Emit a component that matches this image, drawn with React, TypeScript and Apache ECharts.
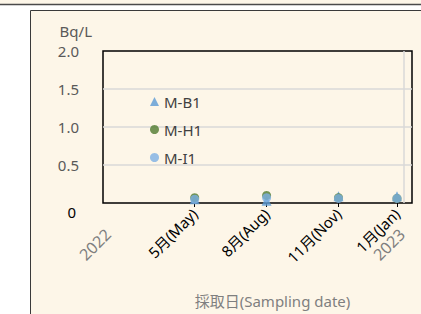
import React, { useEffect, useRef } from "react";
import * as echarts from "echarts";

const seriesNames = ["M-B1", "M-H1", "M-I1"];
const sampleDates = ["2022-05-17", "2022-08-16", "2022-11-15", "2023-01-28"];
const valuesB1 = [0.05, 0.03, 0.09, 0.09];
const valuesH1 = [0.07, 0.1, 0.07, 0.06];
const valuesI1 = [0.05, 0.07, 0.06, 0.06];
const tickLabels = ["5月(May)", "8月(Aug)", "11月(Nov)", "1月(Jan)"];
const yearLabels = ["2022", "2023"];
const axisStartDate = "2022-01-21";
const axisEndDate = "2023-02-16";
const gridLineDate = "2023-02-06";
const yTicks = [0, 0.5, 1.0, 1.5, 2.0];

const DAY = 86400000;
const base = Date.parse(axisStartDate);
const toDay = (d: string) => Math.round((Date.parse(d) - base) / DAY);

const colors = ["#5B9BD5", "#4F7A2E", "#7DB0E4"];
const symbols = ["triangle", "circle", "circle"];
const FONT = "'Noto Sans', 'Noto Sans CJK JP', sans-serif";
const CREAM = "#FDF6E8";

export default function App() {
  const ref = useRef<HTMLDivElement>(null);
  useEffect(() => {
    if (!ref.current) return;
    const chart = echarts.init(ref.current, undefined, { renderer: "svg" });
    const xs = sampleDates.map(toDay);
    const allValues = [valuesB1, valuesH1, valuesI1];
    const labelMap: Record<number, string> = {};
    xs.forEach((x, i) => (labelMap[x] = tickLabels[i]));
    const xMax = toDay(axisEndDate);
    const yearPos = [0, xs[xs.length - 1]];
    const yearMap: Record<number, string> = {};
    yearPos.forEach((x, i) => (yearMap[x] = yearLabels[i]));
    chart.setOption({
      animation: false,
      backgroundColor: "#ffffff",
      textStyle: { fontFamily: FONT },
      graphic: [
        { type: "rect", z: -10, shape: { x: 0, y: 0, width: 421, height: 4 }, style: { fill: CREAM } },
        { type: "line", z: -9, shape: { x1: 0, y1: 4.5, x2: 421, y2: 4.5 }, style: { stroke: "#4a4a4a", lineWidth: 1.5 } },
        {
          type: "rect",
          z: -10,
          shape: { x: 30.5, y: 10.5, width: 420, height: 330 },
          style: { fill: CREAM, stroke: "#3a3a3a", lineWidth: 1 },
        },
      ],
      grid: {
        left: 103,
        top: 51,
        right: 9,
        bottom: 111,
        show: true,
        borderColor: "#000",
        borderWidth: 1.5,
        backgroundColor: "transparent",
        outerBoundsMode: "none",
        containLabel: false,
      },
      legend: {
        orient: "vertical",
        left: 145,
        top: 89,
        itemGap: 13,
        itemWidth: 9,
        itemHeight: 9,
        textStyle: { color: "#404040", fontSize: 15, fontFamily: FONT },
        data: seriesNames,
      },
      xAxis: [
        {
          type: "value",
          min: 0,
          max: xMax,
          splitLine: { show: false },
          axisLine: { show: false },
          axisTick: {
            show: true,
            customValues: xs,
            length: 4,
            inside: false,
            lineStyle: { color: "#000", width: 1 },
          },
          axisLabel: {
            customValues: xs,
            rotate: 45,
            margin: 8,
            color: "#000",
            fontSize: 15,
            fontFamily: FONT,
            formatter: (v: number) => labelMap[v] ?? "",
          },
          name: "採取日(Sampling date)",
          nameLocation: "middle",
          nameGap: 90,
          nameTextStyle: { color: "#7F7F7F", fontSize: 15, fontFamily: FONT, padding: [0, 0, 0, 30] },
        },
        {
          type: "value",
          min: 0,
          max: xMax,
          position: "bottom",
          splitLine: { show: false },
          axisLine: { show: false },
          axisTick: { show: false },
          axisLabel: {
            customValues: yearPos,
            rotate: 45,
            margin: 8,
            formatter: (v: number) => "{y|" + (yearMap[v] ?? "") + "}",
            rich: {
              y: { color: "#7F7F7F", fontSize: 16, fontFamily: FONT, padding: [36, 11, 0, 0] },
            },
          },
        },
      ],
      yAxis: {
        type: "value",
        min: 0,
        max: 2,
        interval: 0.5,
        axisLine: { show: false },
        axisTick: { show: false },
        splitLine: {
          show: true,
          showMaxLine: false,
          showMinLine: false,
          lineStyle: { color: "#D9D9D9", width: 1.5 },
        },
        axisLabel: {
          margin: 24,
          color: "#595959",
          fontSize: 15,
          fontFamily: FONT,
          customValues: yTicks,
          formatter: (v: number) => (v === 0 ? "{z|0}" : "{n|" + v.toFixed(1) + "}"),
          rich: {
            z: { color: "#000", fontSize: 15, fontFamily: FONT, padding: [18, 3, 0, 0] },
            n: { color: "#595959", fontSize: 15, fontFamily: FONT },
          },
        },
        name: "Bq/L",
        nameLocation: "end",
        nameGap: 20,
        nameTextStyle: {
          color: "#595959",
          fontSize: 15,
          fontFamily: FONT,
          align: "right",
          verticalAlign: "middle",
          padding: [0, 11, 0, 0],
        },
      },
      series: seriesNames.map((name, si) => ({
        name,
        type: "scatter",
        xAxisIndex: 0,
        symbol: symbols[si],
        symbolSize: si === 0 ? 10 : 9,
        itemStyle: { color: colors[si] },
        data: xs.map((x, i) => [x, allValues[si][i]]),
        markLine:
          si === 0
            ? {
                silent: true,
                symbol: ["none", "none"],
                label: { show: false },
                lineStyle: { color: "#D9D9D9", width: 1.5, type: "solid" },
                data: [{ xAxis: toDay(gridLineDate) }],
              }
            : undefined,
      })),
    });
    return () => chart.dispose();
  }, []);
  return (
    <div
      ref={ref}
      style={{ position: "fixed", left: 0, top: 0, width: 421, height: 314 }}
    />
  );
}
